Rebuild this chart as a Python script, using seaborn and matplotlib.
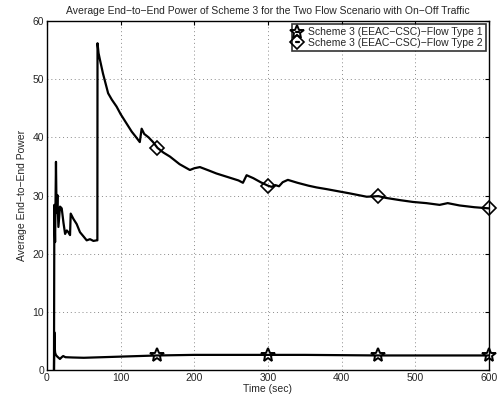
import numpy as np
import pandas as pd
import seaborn as sns
import matplotlib
matplotlib.use("Agg")
import matplotlib.pyplot as plt
from matplotlib.lines import Line2D

# ---- data ----
t_type1 = [9.5, 10, 10.5, 11, 12, 14, 17.6, 20, 22, 25, 35, 50, 75, 100, 125, 150, 200, 250, 300, 350, 400, 450, 500, 550, 600]
v_type1 = [0.0, 6.5, 4.0, 3.0, 2.6, 2.3, 1.9, 2.2, 2.4, 2.2, 2.15, 2.1, 2.2, 2.3, 2.4, 2.5, 2.6, 2.6, 2.6, 2.6, 2.55, 2.5, 2.5, 2.5, 2.5]

t_type2 = [9.5, 10, 11, 12.2, 13, 14.1, 15.5, 17.7, 20, 22.4, 24.6, 26.9, 29, 31.3, 32.2, 35.8, 40.3,
           44.8, 49.4, 53.9, 58.4, 63, 67.5, 68.4, 68.6, 70, 72, 76, 83, 88, 94.5, 100, 108, 115, 120, 126,
           128.5, 132, 138, 144, 150, 158, 167, 180, 194, 200, 207.6, 220, 230, 240, 250, 260, 266, 271,
           280, 290, 300, 305, 310, 315, 320, 327, 340, 355, 366, 380, 397, 410, 434, 450, 460, 480, 497,
           515, 533, 544, 560, 580, 600]
v_type2 = [0.0, 28.4, 22.0, 35.8, 27.0, 30.1, 24.6, 28.1, 27.8, 25.3, 23.4, 24.0, 23.7, 23.2, 26.9, 26.0, 25.1,
           23.7, 23.0, 22.3, 22.5, 22.2, 22.3, 22.3, 56.2, 54.5, 53.3, 51.0, 47.6, 46.5, 45.3, 44.0, 42.4, 41.0, 40.2, 39.2,
           41.5, 40.6, 40.0, 39.2, 38.2, 37.4, 36.7, 35.4, 34.4, 34.7, 34.9, 34.3, 33.8, 33.4, 33.0, 32.6, 32.2, 33.5,
           33.0, 32.3, 31.7, 31.5, 31.8, 31.6, 32.3, 32.7, 32.2, 31.7, 31.4, 31.1, 30.7, 30.4, 29.8, 29.9, 29.6, 29.2, 28.9,
           28.7, 28.4, 28.7, 28.3, 28.0, 27.8]

marker_times = [150, 300, 450, 600]
labels = ["Scheme 3 (EEAC\u2212CSC)\u2212Flow Type 1", "Scheme 3 (EEAC\u2212CSC)\u2212Flow Type 2"]
title = "Average End\u2212to\u2212End Power of Scheme 3 for the Two Flow Scenario with On\u2212Off Traffic"
xlabel = "Time (sec)"
ylabel = "Average End\u2212to\u2212End Power"
xticks = [0, 100, 200, 300, 400, 500, 600]
yticks = [0, 10, 20, 30, 40, 50, 60]

df1 = pd.DataFrame({"t": t_type1, "v": v_type1})
df2 = pd.DataFrame({"t": t_type2, "v": v_type2})
m1 = df1[df1["t"].isin(marker_times)]
m2 = df2[df2["t"].isin(marker_times)]

sns.set_style("white")
plt.rcParams["font.family"] = ["Liberation Sans", "DejaVu Sans"]

fig = plt.figure(figsize=(5.02, 3.99), dpi=100)
ax = fig.add_axes([0.0936, 0.0727, 0.8804, 0.8743])

sns.lineplot(data=df1, x="t", y="v", ax=ax, color="black", lw=1.6, sort=False, estimator=None)
sns.lineplot(data=df2, x="t", y="v", ax=ax, color="black", lw=1.6, sort=False, estimator=None)
ax.plot(m1["t"], m1["v"], ls="none", marker="*", ms=10, mfc="none", mec="black", mew=1.4, clip_on=False)
ax.plot(m2["t"], m2["v"], ls="none", marker="D", ms=7, mfc="none", mec="black", mew=1.2, clip_on=False)

ax.set_xlim(0, 600)
ax.set_ylim(0, 60)
ax.set_xticks(xticks)
ax.set_yticks(yticks)
ax.grid(True, ls=(0, (1, 3)), color="#8a8a8a", lw=0.7)
ax.tick_params(direction="in", labelsize=7.5, length=3, color="black", top=True, right=True, pad=2)
for s in ax.spines.values():
    s.set_color("black")
    s.set_linewidth(1.0)
ax.set_xlabel(xlabel, fontsize=7.5, labelpad=1)
ax.set_ylabel(ylabel, fontsize=7.5, labelpad=4)
ax.set_title(title, fontsize=7.5, pad=5)

handles = [Line2D([], [], color="black", marker="*", ms=10, mfc="none", mew=1.4, lw=1.6),
           Line2D([], [], color="black", marker="D", ms=7, mfc="none", mew=1.2, lw=1.6)]
leg = ax.legend(handles, labels, loc="upper right", fontsize=7.5, frameon=True, fancybox=False,
                handlelength=0.3, handletextpad=0.9, borderaxespad=0.3, labelspacing=0.05,
                borderpad=0.3, edgecolor="black")
leg.get_frame().set_linewidth(1.2)

fig.savefig("out.png", dpi=100)
